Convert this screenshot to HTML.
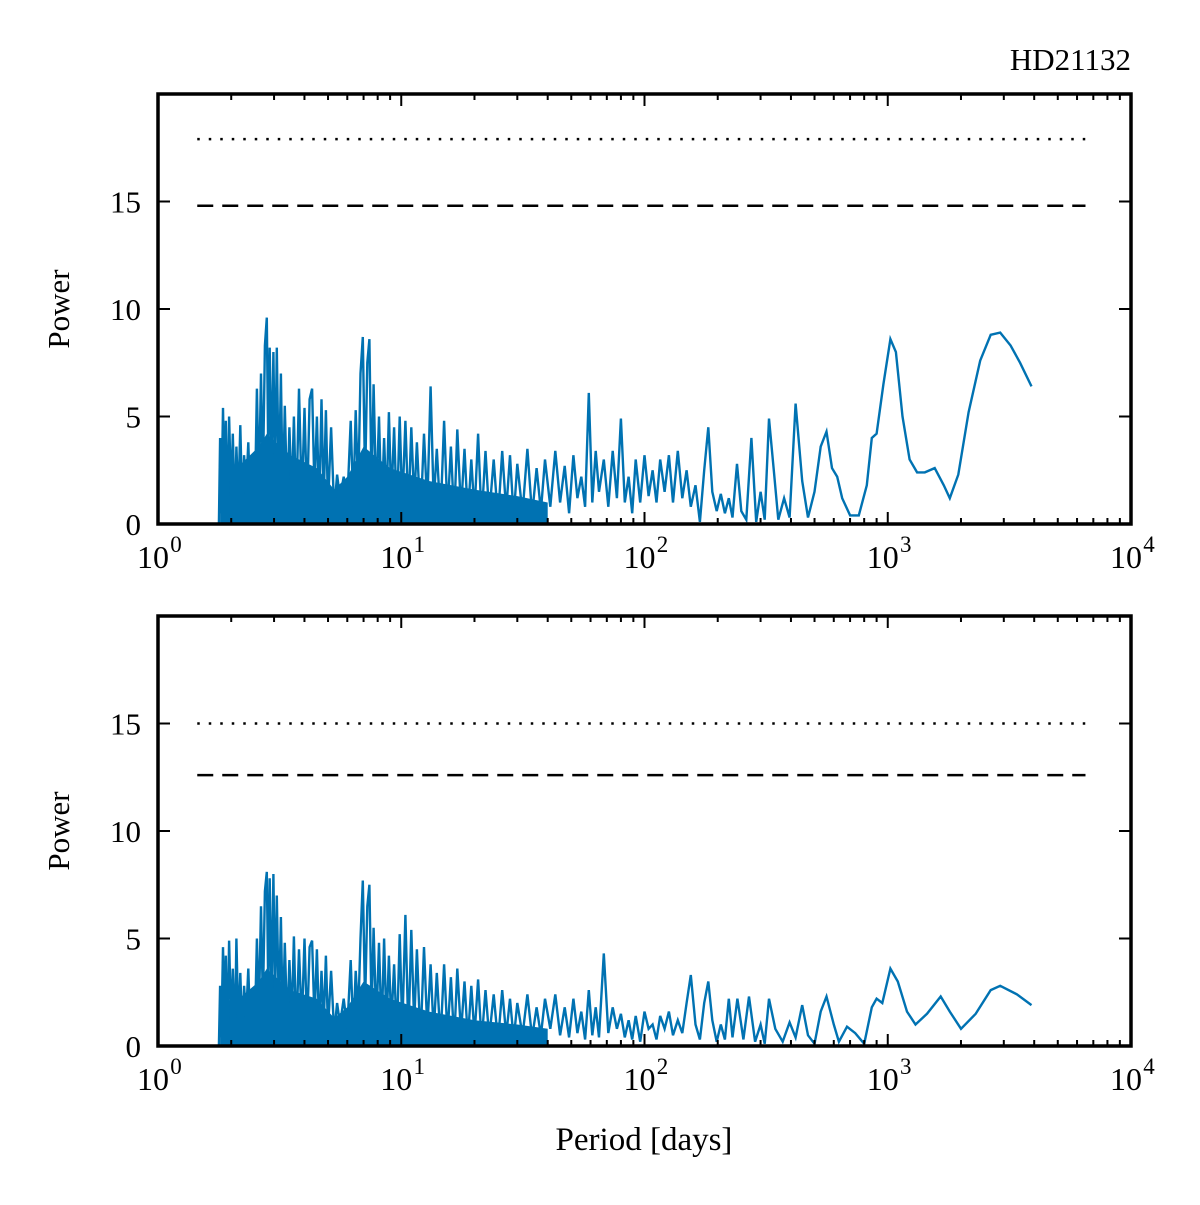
<!DOCTYPE html>
<html><head><meta charset="utf-8"><style>
html,body{margin:0;padding:0;background:#fff;}
svg{display:block;font-family:"Liberation Serif",serif;}
</style></head><body>
<svg id="chart" width="1200" height="1205" viewBox="0 0 1200 1205" xmlns="http://www.w3.org/2000/svg">
<text x="1131" y="70" text-anchor="end" font-size="31">HD21132</text>
<text x="644" y="1150" text-anchor="middle" font-size="33">Period [days]</text>
</svg>
<script>
const topPeriods=[1.78,1.8,1.82,1.85,1.88,1.9,1.93,1.96,2.0,2.03,2.07,2.1,2.14,2.18,2.22,2.26,2.3,2.35,2.4,2.45,2.5,2.55,2.6,2.65,2.7,2.75,2.8,2.84,2.88,2.93,2.98,3.03,3.08,3.14,3.2,3.26,3.32,3.4,3.47,3.55,3.62,3.7,3.8,3.9,4.0,4.1,4.2,4.3,4.4,4.5,4.6,4.7,4.8,4.9,5.0,5.15,5.3,5.45,5.6,5.8,6.0,6.2,6.35,6.5,6.65,6.8,6.95,7.1,7.25,7.4,7.55,7.7,7.9,8.1,8.3,8.5,8.7,8.9,9.1,9.35,9.6,9.85,10.1,10.4,10.7,11.0,11.3,11.6,12.0,12.4,12.8,13.2,13.6,14.0,14.5,15.0,15.5,16.0,16.5,17.0,17.6,18.2,18.8,19.4,20.0,20.7,21.4,22.2,23,24,25,26,27,28,29,30,31.5,33,34.5,36,37.5,39,41,43,45,47,49,51,53,55,57,59,61,63,65,68,71,74,77,80,83,86,89,92,96,100,104,108,112,116,121,126,131,137,143,149,155,162,169,176,183,190,198,206,214,222,230,240,250,262,275,288,300,312,325,340,355,375,395,418,445,470,500,530,560,590,620,650,700,760,820,860,900,960,1025,1080,1150,1230,1320,1420,1560,1700,1800,1950,2150,2400,2650,2900,3200,3500,3900];
const topPower=[0,4.0,0.5,5.4,1.0,4.8,0.3,5.0,1.2,4.2,0.4,3.6,1.0,4.6,0.6,3.2,1.4,3.8,0.5,3.0,0.8,6.3,1.5,7.0,2.0,8.3,9.6,3.0,8.2,2.5,8.0,2.0,8.2,1.5,7.0,1.0,5.5,0.8,4.5,1.2,5.0,0.5,6.3,1.0,5.4,0.8,5.8,6.3,1.5,5.0,0.7,5.8,1.0,5.3,0.8,4.5,0.6,2.3,1.2,2.2,1.0,4.8,0.8,5.3,1.5,7.0,8.7,2.0,7.5,8.6,1.5,6.5,1.0,5.0,0.5,4.0,0.8,5.2,1.0,4.5,0.3,5.0,0.8,4.8,0.5,4.5,1.0,3.8,0.2,4.2,0.8,6.4,1.0,3.5,0.3,4.8,0.5,3.6,0.2,4.4,0.6,3.5,0.3,3.0,0.5,4.2,0.2,3.4,0.4,3.0,0.2,3.4,0.6,3.2,0.3,2.8,0.5,3.5,0.4,2.6,0.6,3.0,0.8,3.4,1.0,2.7,0.5,3.2,1.2,2.2,0.8,6.1,1.0,3.4,1.5,3.0,0.8,3.4,1.2,4.9,1.0,2.2,0.5,3.0,1.0,3.2,1.3,2.5,1.0,3.0,1.5,3.2,1.0,3.4,1.2,2.5,0.8,1.8,0.1,2.5,4.5,1.5,0.6,1.4,0.5,1.2,0.3,2.8,0.6,0.2,4.0,0.1,1.5,0.2,4.9,2.5,0.2,1.2,0.3,5.6,2.0,0.3,1.5,3.6,4.3,2.6,2.2,1.2,0.4,0.4,1.8,4.0,4.2,6.5,8.6,8.0,5.0,3.0,2.4,2.4,2.6,1.8,1.2,2.3,5.2,7.6,8.8,8.9,8.3,7.5,6.4];
const topFloorPeriods=[1.8,2.2,2.6,2.8,3.5,4.5,5.3,6.0,7.0,9.0,13,20,30,40];
const topFloorPower=[2.6,2.8,3.6,4.2,3.2,2.6,1.6,2.2,3.6,2.6,2.0,1.6,1.3,1.0];

const botDensePeriods=[1.78,1.8,1.82,1.85,1.88,1.9,1.93,1.96,2.0,2.03,2.07,2.1,2.14,2.18,2.22,2.26,2.3,2.35,2.4,2.45,2.5,2.55,2.6,2.65,2.7,2.75,2.8,2.84,2.88,2.93,2.98,3.03,3.08,3.14,3.2,3.26,3.32,3.4,3.47,3.55,3.62,3.7,3.8,3.9,4.0,4.1,4.2,4.3,4.4,4.5,4.6,4.7,4.8,4.9,5.0,5.15,5.3,5.45,5.6,5.8,6.0,6.2,6.35,6.5,6.65,6.8,6.95,7.1,7.25,7.4,7.55,7.7,7.9,8.1,8.3,8.5,8.7,8.9,9.1,9.35,9.6,9.85,10.1,10.4,10.7,11.0,11.3,11.6,12.0,12.4,12.8,13.2,13.6,14.0,14.5,15.0,15.5,16.0,16.5,17.0,17.6,18.2,18.8,19.4,20.0,20.7,21.4,22.2,23,24,25,26,27,28,29,30,31.5,33,34.5,36,37.5,39];
const botDensePower=[
0,2.8,0.4,4.6,0.8,4.2,0.3,4.9,1.0,3.6,
0.4,5.0,0.8,3.4,0.5,2.8,1.2,3.6,0.4,2.6,
0.8,5.0,1.5,6.5,2.0,7.2,8.1,2.5,7.8,2.0,
8.0,2.2,7.0,1.5,6.0,1.0,4.8,0.8,4.0,1.2,
5.1,0.5,4.5,1.0,5.0,0.8,4.6,4.9,1.2,4.5,
0.7,3.5,1.0,4.2,0.8,3.5,0.6,2.0,1.0,2.2,
0.8,4.0,0.6,3.5,1.5,5.0,7.7,2.0,6.5,7.5,
1.5,5.5,1.0,4.8,0.6,5.0,0.8,4.2,1.0,3.8,
0.4,5.2,0.8,6.1,0.5,5.4,1.0,4.5,0.2,4.6,
0.8,3.8,0.6,3.4,0.3,3.8,0.5,3.2,0.2,3.6,
0.6,3.0,0.3,2.8,0.5,3.1,0.2,2.6,0.4,2.4,
0.2,2.6,0.5,2.2,0.3,2.0,0.5,2.4,0.4,1.8,
0.5,2.2];
const botTailPeriods=[41,43,45,47,49,51,53,55,57,59,61,63,65,68,71,74,77,80,83,86,89,92,96,100,104,108,112,116,121,126,131,137,143,149,155,162,169,176,183,190,198,206,214,222,230,241,255,269,285,300,312,325,345,370,395,418,445,470,500,530,560,600,630,680,735,800,860,900,950,1025,1100,1200,1300,1450,1650,1800,2000,2300,2650,2900,3400,3900];
const botTailPower=[0.8,2.4,0.5,1.8,0.4,2.2,0.6,1.6,0.3,2.6,0.5,1.8,0.4,4.3,0.6,1.8,0.8,1.5,0.4,1.2,0.3,1.4,0.2,1.6,0.8,1.0,0.3,1.4,0.8,1.6,0.5,1.2,0.6,2.0,3.3,1.0,0.3,2.0,3.0,1.2,0.2,1.0,0.3,2.2,0.4,2.2,0.3,2.3,0.2,1.0,0.1,2.2,0.8,0.2,1.1,0.4,1.9,0.5,0.1,1.6,2.3,1.0,0.2,0.9,0.6,0.1,1.8,2.2,2.0,3.6,3.0,1.6,1.0,1.5,2.3,1.6,0.8,1.5,2.6,2.8,2.4,1.9];
const botPeriods=botDensePeriods.concat(botTailPeriods);
const botPower=botDensePower.concat(botTailPower);
const botFloorPeriods=[1.8,2.2,2.6,2.8,3.5,4.5,5.3,6.0,7.0,9.0,13,20,30,40];
const botFloorPower=[2.0,2.3,3.0,3.6,2.6,2.2,1.3,1.8,3.0,2.2,1.6,1.2,1.0,0.8];

const xTickLabels=["0","1","2","3","4"];
const yTicks=[0,5,10,15];
const topDotted=17.9, topDashed=14.8, botDotted=15.0, botDashed=12.6;
const refRange=[1.45,6500];

const svg=document.getElementById('chart');
const NS='http://www.w3.org/2000/svg';
const X0=158,X1=1131,YMAX=20;
function xs(p){return X0+Math.log10(p)/4*(X1-X0);}
function mk(tag,attrs){const e=document.createElementNS(NS,tag);for(const k in attrs)e.setAttribute(k,attrs[k]);svg.appendChild(e);return e;}

function panel(name,yTop,yBot,per,pow,fp,fv,dotted,dashed){
  const ys=v=>yBot-v/YMAX*(yBot-yTop);
  let d='M'+xs(fp[0]).toFixed(1)+','+ys(0);
  fp.forEach((p,i)=>{d+=' L'+xs(p).toFixed(1)+','+ys(fv[i]).toFixed(1);});
  d+=' L'+xs(fp[fp.length-1]).toFixed(1)+','+ys(0)+' Z';
  const f=mk('path',{d:d,fill:'#0072b2',stroke:'none'});
  
  
  let pd='';
  per.forEach((p,i)=>{pd+=(i?' L':'M')+xs(p).toFixed(1)+','+ys(pow[i]).toFixed(1);});
  const ln=mk('path',{d:pd,fill:'none',stroke:'#0072b2','stroke-width':2.4,'stroke-linejoin':'miter'});
  
  
  const dl=mk('line',{x1:xs(refRange[0]),x2:xs(refRange[1]),y1:ys(dotted),y2:ys(dotted),stroke:'#000','stroke-width':2.5,'stroke-dasharray':'2.5,9'});
  
  
  const dsh=mk('line',{x1:xs(refRange[0]),x2:xs(refRange[1]),y1:ys(dashed),y2:ys(dashed),stroke:'#000','stroke-width':2.5,'stroke-dasharray':'16,9'});
  
  
  for(let dec=0;dec<4;dec++){for(let m=1;m<=9;m++){
    const p=Math.pow(10,dec)*m; const x=xs(p); const L=m===1?12:6;
    if(m===1&&dec===0)continue;
    mk('line',{x1:x,x2:x,y1:yBot,y2:yBot-L,stroke:'#000','stroke-width':2});
    mk('line',{x1:x,x2:x,y1:yTop,y2:yTop+L,stroke:'#000','stroke-width':2});
  }}
  xTickLabels.forEach((e,i)=>{
    const t=mk('text',{x:xs(Math.pow(10,i))-5,y:yBot+44,'text-anchor':'middle','font-size':32});
    t.textContent='10';
    
    
    const s=mk('text',{x:xs(Math.pow(10,i))+18,y:yBot+28,'text-anchor':'middle','font-size':23});
    s.textContent=e;
    
    
  });
  yTicks.forEach(v=>{
    const y=ys(v);
    mk('line',{x1:X0,x2:X0+12,y1:y,y2:y,stroke:'#000','stroke-width':2});
    mk('line',{x1:X1,x2:X1-12,y1:y,y2:y,stroke:'#000','stroke-width':2});
    const t=mk('text',{x:141,y:y+11,'text-anchor':'end','font-size':31});
    t.textContent=String(v);
    
    
  });
  const fr=mk('rect',{x:X0,y:yTop,width:X1-X0,height:yBot-yTop,fill:'none',stroke:'#000','stroke-width':3.5});
  
  
  const yt=mk('text',{x:0,y:0,'text-anchor':'middle','font-size':31,transform:'translate(69,'+((yTop+yBot)/2)+') rotate(-90)'});
  yt.textContent='Power';
  
  
}
panel('top-panel',94,524,topPeriods,topPower,topFloorPeriods,topFloorPower,topDotted,topDashed);
panel('bottom-panel',616,1046,botPeriods,botPower,botFloorPeriods,botFloorPower,botDotted,botDashed);
</script>
</body></html>
